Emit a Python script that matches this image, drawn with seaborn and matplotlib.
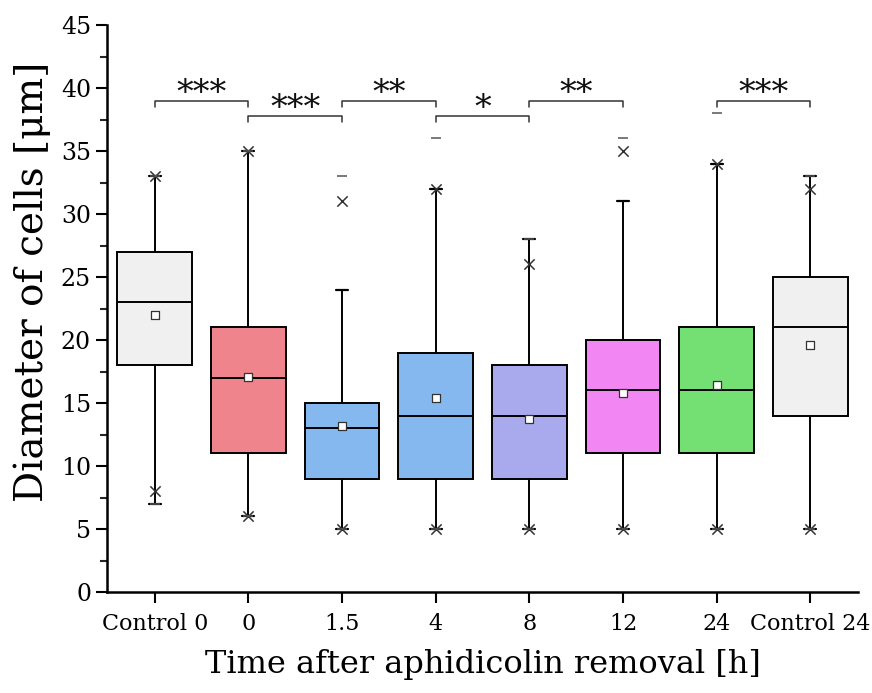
import numpy as np
import pandas as pd
import matplotlib
matplotlib.use("Agg")
import matplotlib.pyplot as plt
from matplotlib.ticker import MultipleLocator
import seaborn as sns

categories = ["Control 0", "0", "1.5", "4", "8", "12", "24", "Control 24"]
q1 = [18, 11, 9, 9, 9, 11, 11, 14]
median = [23, 17, 13, 14, 14, 16, 16, 21]
q3 = [27, 21, 15, 19, 18, 20, 21, 25]
mean = [22.0, 17.1, 13.2, 15.4, 13.7, 15.8, 16.4, 19.6]
whisker_low = [7, 6, 5, 5, 5, 5, 5, 5]
whisker_high = [33, 35, 24, 32, 28, 31, 34, 33]
p1 = [8, 6, 5, 5, 5, 5, 5, 5]
p99 = [33, 35, 31, 32, 26, 35, 34, 32]
minimum = [7, 6, 5, 5, 5, 5, 5, 5]
maximum = [33, 35, 33, 36, 28, 36, 38, 33]
colors = ["#f0f0f0", "#f0848c", "#84b8ee", "#84b8ee", "#a9aaee", "#f286f2", "#74e074", "#f0f0f0"]

bracket_from = [0, 1, 2, 3, 4, 6]
bracket_to = [1, 2, 3, 4, 5, 7]
bracket_y = [39.0, 37.8, 39.0, 37.8, 39.0, 39.0]
bracket_labels = ["***", "***", "**", "*", "**", "***"]

sns.set_style("ticks")
plt.rcParams["font.family"] = ["DejaVu Serif"]
plt.rcParams["text.color"] = "black"
plt.rcParams["axes.labelcolor"] = "black"

fig = plt.figure(figsize=(8.72, 6.93), dpi=100)
ax = fig.add_axes([107 / 872, 1 - 592 / 693, (858 - 107) / 872, (592 - 25) / 693])

stats = []
for i, c in enumerate(categories):
    stats.append(dict(label=c, q1=q1[i], med=median[i], q3=q3[i], mean=mean[i],
                      whislo=whisker_low[i], whishi=whisker_high[i], fliers=[]))
pos = np.arange(len(categories))
bp = ax.bxp(stats, positions=pos, widths=0.8, patch_artist=True, showmeans=False,
            showfliers=False, capwidths=0.13,
            boxprops=dict(linewidth=1.4, edgecolor="black"),
            medianprops=dict(color="black", linewidth=1.4),
            whiskerprops=dict(color="black", linewidth=1.4),
            capprops=dict(color="black", linewidth=1.6))
for patch, col in zip(bp["boxes"], colors):
    patch.set_facecolor(col)

df = pd.DataFrame({"x": pos, "mean": mean, "p1": p1, "p99": p99,
                   "min": minimum, "max": maximum})
sns.scatterplot(data=df, x="x", y="p1", marker="x", s=55, color="#333333",
                linewidth=1.1, ax=ax, zorder=5)
sns.scatterplot(data=df, x="x", y="p99", marker="x", s=55, color="#333333",
                linewidth=1.1, ax=ax, zorder=5)
sns.scatterplot(data=df, x="x", y="min", marker="_", s=55, color="#555555",
                linewidth=1.1, ax=ax, zorder=5)
sns.scatterplot(data=df, x="x", y="max", marker="_", s=55, color="#555555",
                linewidth=1.1, ax=ax, zorder=5)
sns.scatterplot(data=df, x="x", y="mean", marker="s", s=26, facecolor="white",
                edgecolor="#333333", linewidth=0.9, ax=ax, zorder=6)

for a, b, y, lab in zip(bracket_from, bracket_to, bracket_y, bracket_labels):
    ax.plot([a, a, b, b], [y - 0.5, y, y, y - 0.5], color="#333333", linewidth=1.1,
            clip_on=False)
    ax.text((a + b) / 2, y - 0.75, lab, ha="center", va="bottom", fontsize=24,
            color="#111111")

ax.set_xlim(-0.51, 7.51)
ax.set_ylim(0, 45)
ax.yaxis.set_major_locator(MultipleLocator(5))
ax.yaxis.set_minor_locator(MultipleLocator(2.5))
ax.set_xticks(pos)
ax.set_xticklabels(categories)
ax.tick_params(axis="both", which="major", length=8, width=1.5, labelsize=16,
               direction="out", colors="black")
ax.tick_params(axis="y", which="major", labelsize=17)
ax.tick_params(axis="x", which="major", pad=7)
ax.tick_params(axis="y", which="minor", length=5, width=1.5, direction="out")
ax.tick_params(axis="x", which="minor", bottom=False)
for s in ["top", "right"]:
    ax.spines[s].set_visible(False)
for s in ["left", "bottom"]:
    ax.spines[s].set_linewidth(1.8)
    ax.spines[s].set_color("black")

ax.set_xlabel("Time after aphidicolin removal [h]", fontsize=23)
ax.set_ylabel("Diameter of cells [μm]", fontsize=28)
ax.xaxis.set_label_coords((483 - 107) / (858 - 107), -(665 - 592) / (592 - 25))
ax.yaxis.set_label_coords(-(107 - 32) / (858 - 107), (592 - 282) / (592 - 25))
ax.xaxis.label.set_va("center")
ax.yaxis.label.set_va("center")

fig.savefig("out.png", dpi=100)
